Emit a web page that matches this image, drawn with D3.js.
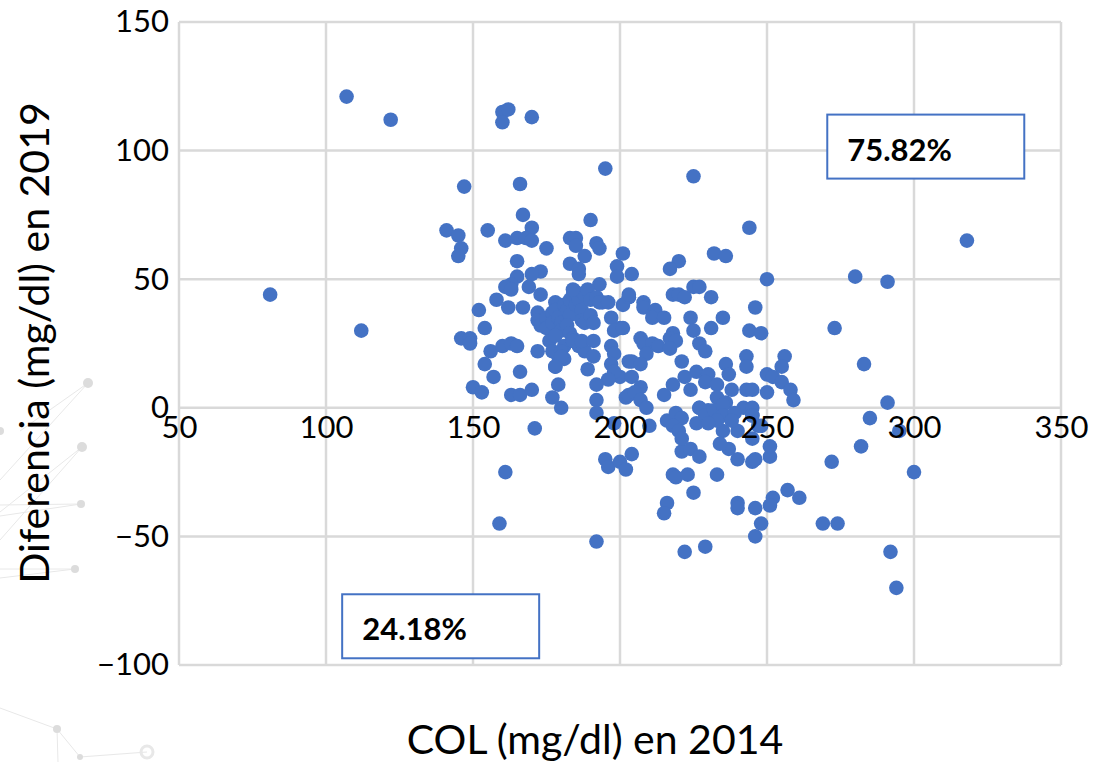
<!DOCTYPE html>
<html>
<head>
<meta charset="utf-8">
<script src="https://cdn.jsdelivr.net/npm/d3@7"></script>
<style>
    html, body { margin: 0; padding: 0; background: #fff; }
    text { font-family: Lato, "Open Sans", sans-serif; fill: #000; }
</style>
</head>
<body>
<svg id="chart" width="1095" height="762"></svg>
<script>
const xTicks = [50, 100, 150, 200, 250, 300, 350];
const yTicks = [-100, -50, 0, 50, 100, 150];

// colesterol 2014, diferencia 2019 (same order in both)
const col2014 = [
    81, 107, 122, 112, 160, 162, 160, 170, 195, 225, 166, 147, 167, 190, 244, 141, 145, 155, 170, 161,
    165, 168, 170, 175, 183, 185, 185, 192, 193, 188, 201, 146, 145, 165, 183, 186, 186, 199, 199, 203,
    173, 170, 165, 163, 161, 163, 169, 193, 173, 158, 162, 167, 152, 154, 146, 149, 149, 156, 160, 163,
    165, 172, 154, 157, 166, 150, 153, 163, 166, 170, 179, 177, 180, 171,
    172, 172, 173, 175, 175, 177, 177, 178, 178, 179, 180, 180, 176, 178, 181, 182, 183, 183, 184, 185,
    185, 186, 187, 188, 189, 190, 192, 194, 187, 188, 190, 191, 193, 182, 183, 184, 181, 179, 177, 178,
    180, 181, 184, 186, 184, 189, 196, 201, 203, 197, 200, 198, 184, 180, 178, 188, 187, 191, 191, 197,
    198, 203, 197, 200, 198, 196, 192, 192, 192, 202, 198,
    232, 236, 220, 217, 250, 204, 218, 220, 222, 225, 227, 231, 246, 208, 208, 203, 212, 211, 215, 224,
    235, 231, 225, 244, 248, 201, 218, 217, 219, 207, 208, 211, 213, 217, 209, 204, 207, 221, 227, 229,
    243, 256, 255, 243, 236, 237, 226, 230, 222, 250, 252, 255, 258, 259, 218, 215, 224, 229, 233, 238,
    243, 245, 250, 204, 207, 203, 205, 207, 209, 210, 233, 227, 230, 236, 242, 245,
    216, 219, 221, 218, 220, 226, 235, 240, 247, 245, 227, 229, 232, 235, 235, 239, 245, 233, 238, 230, 248,
    204, 195, 196, 200, 202, 218, 219, 223, 233, 225, 216, 215, 240, 240, 246, 252, 251, 257, 261,
    248, 246, 269, 274, 192, 222, 229, 272, 240, 245, 246, 251, 251, 245, 237, 234, 221, 224, 227, 221,
    318, 280, 291, 285, 282, 291, 283, 273, 295, 300, 292, 294, 161, 159
];
const dif2019 = [
    44, 121, 112, 30, 115, 116, 111, 113, 93, 90, 87, 86, 75, 73, 70, 69, 67, 69, 70, 65,
    66, 66, 65, 62, 66, 66, 63, 64, 62, 59, 60, 62, 59, 57, 56, 54, 52, 55, 51, 43,
    53, 52, 51, 48, 47, 46, 47, 48, 44, 42, 39, 39, 38, 31, 27, 27, 25, 22, 24, 25,
    24, 22, 17, 12, 14, 8, 6, 5, 5, 7, 9, 4, 0, -8,
    37, 34, 32, 35, 31, 37, 33, 41, 38, 35, 33, 30, 26, 28, 40, 38, 42, 36, 44, 40,
    45, 42, 38, 44, 46, 42, 43, 41, 34, 33, 36, 33, 41, 32, 29, 27, 24, 20, 22, 16,
    22, 19, 46, 24, 26, 15, 41, 40, 43, 35, 31, 30, 26, 20, 16, 22, 26, 26, 20, 24,
    21, 18, 17, 12, 14, 11, 9, 3, -2, 4, -6,
    60, 59, 57, 54, 50, 52, 44, 44, 43, 47, 47, 43, 39, 41, 39, 44, 38, 35, 35, 35,
    35, 31, 30, 30, 29, 31, 29, 27, 26, 27, 25, 25, 24, 23, 21, 18, 17, 18, 25, 22,
    20, 20, 16, 16, 17, 13, 14, 13, 12, 13, 12, 10, 7, 3, 9, 5, 7, 10, 9, 7,
    7, 7, 6, 12, 8, 5, 6, 3, 0, -7, 4, 0, -1, 2, 0, 0,
    -5, -2, -4, -7, -9, -6, -9, -9, -7, -3, 0, -3, -1, 1, -3, -2, -3, -5, -5, -6, -7,
    -18, -20, -23, -21, -24, -26, -27, -26, -26, -33, -37, -41, -37, -39, -39, -35, -38, -32, -35,
    -45, -50, -45, -45, -52, -56, -54, -21, -20, -21, -20, -19, -15, -12, -16, -14, -17, -16, -19, -12,
    65, 51, 49, -4, -15, 2, 17, 31, -9, -25, -56, -70, -25, -45
];

const labelBoxes = [
    { text: "75.82%", colValue: 270.5, difValue: 114 },
    { text: "24.18%", colValue: 105.5, difValue: -72.5 }
];

// faint decoration in the page background, pixel positions
const bgNodes = [[88, 383, 5], [82, 447, 5], [81, 504, 4], [75, 569, 4], [0, 431, 4], [57, 729, 4], [80, 757, 3], [147, 752, 6]];
const bgLines = [[88, 383, 0, 480], [20, 431, 88, 383], [82, 447, 0, 540], [82, 447, 0, 512], [81, 504, 0, 505], [81, 504, 0, 516],
    [75, 569, 0, 569], [75, 569, 0, 578], [57, 729, 0, 708], [57, 729, 80, 757], [57, 729, 58, 762], [80, 757, 147, 752]];

const svg = d3.select("#chart");
const x = d3.scaleLinear().domain([50, 350]).range([179, 1061]);
const y = d3.scaleLinear().domain([-100, 150]).range([665, 22]);

const bg = svg.append("g");
bg.selectAll("line").data(bgLines).join("line")
    .attr("x1", d => d[0]).attr("y1", d => d[1])
    .attr("x2", d => d[2]).attr("y2", d => d[3])
    .attr("stroke", "#e8e8e8").attr("stroke-width", 1);
bg.selectAll("circle").data(bgNodes).join("circle")
    .attr("cx", d => d[0]).attr("cy", d => d[1]).attr("r", d => d[2])
    .attr("fill", d => d[2] === 6 ? "none" : "#dcdcdc")
    .attr("stroke", d => d[2] === 6 ? "#e8e8e8" : "none")
    .attr("stroke-width", 3);

// grid
svg.append("g").selectAll("line").data(yTicks).join("line")
    .attr("x1", 179).attr("x2", 1061)
    .attr("y1", d => y(d)).attr("y2", d => y(d))
    .attr("stroke", "#d9d9d9").attr("stroke-width", 2.5);
svg.append("g").selectAll("line").data(xTicks).join("line")
    .attr("x1", d => x(d)).attr("x2", d => x(d))
    .attr("y1", 22).attr("y2", 665)
    .attr("stroke", "#d9d9d9").attr("stroke-width", 2.5);

svg.append("g").selectAll("circle").data(col2014).join("circle")
    .attr("cx", d => x(d))
    .attr("cy", (d, i) => y(dif2019[i]))
    .attr("r", 7.3)
    .attr("fill", "#4472c4");

// axes only carry the labels, the grid above draws the lines
const xAxis = svg.append("g")
    .attr("transform", `translate(0,${y(0)})`)
    .call(d3.axisBottom(x).tickValues(xTicks).tickSize(0).tickPadding(8));
const yAxis = svg.append("g")
    .attr("transform", "translate(179,0)")
    .call(d3.axisLeft(y).tickValues(yTicks).tickSize(0).tickPadding(10));
[xAxis, yAxis].forEach(a => {
    a.select(".domain").remove();
    a.selectAll("text").attr("font-family", "Lato").attr("font-size", 31).attr("fill", "#000");
});

svg.append("text")
    .attr("x", 595).attr("y", 754)
    .attr("text-anchor", "middle")
    .attr("font-size", 41)
    .text("COL (mg/dl) en 2014");

svg.append("text")
    .attr("transform", "translate(49,343) rotate(-90)")
    .attr("text-anchor", "middle")
    .attr("font-size", 41)
    .text("Diferencia (mg/dl) en 2019");

const boxes = svg.append("g").selectAll("g").data(labelBoxes).join("g")
    .attr("transform", d => `translate(${x(d.colValue)},${y(d.difValue)})`);
boxes.append("rect")
    .attr("width", 197).attr("height", 64)
    .attr("fill", "#fff")
    .attr("stroke", "#4472c4").attr("stroke-width", 2);
boxes.append("text")
    .attr("x", 20).attr("y", 46)
    .attr("font-size", 31).attr("font-weight", 700)
    .text(d => d.text);
</script>
</body>
</html>
